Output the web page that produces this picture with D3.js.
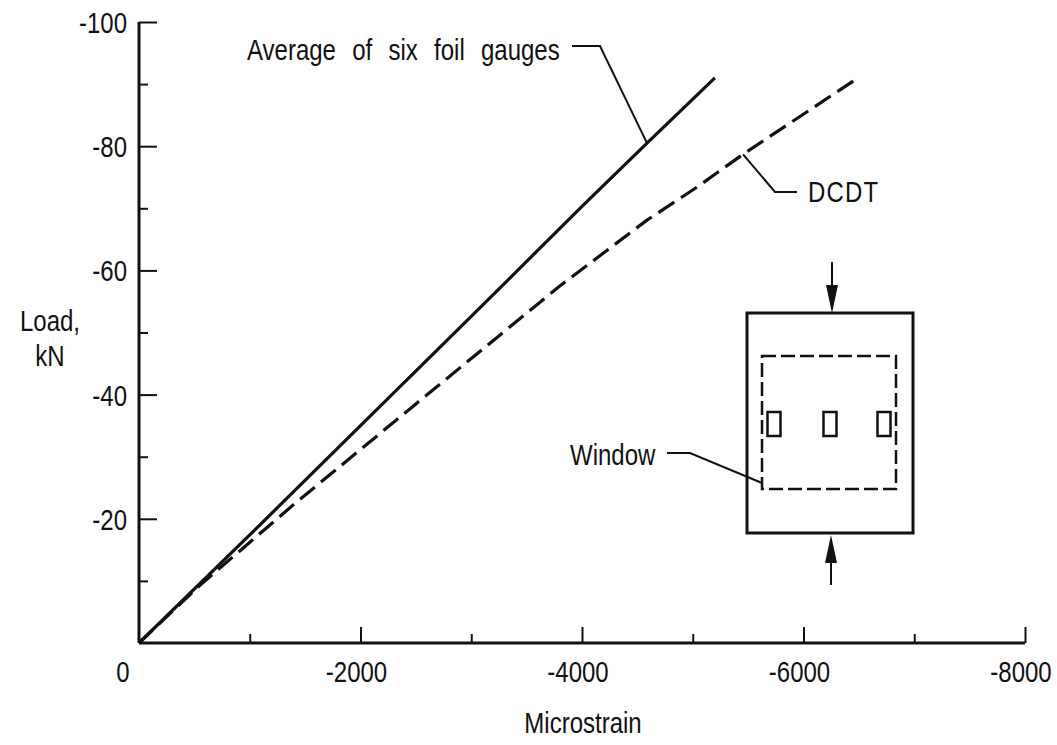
<!DOCTYPE html>
<html><head><meta charset="utf-8">
<script src="https://cdn.jsdelivr.net/npm/d3@7"></script>
<style>
body{margin:0;background:#fff;}
svg text{font-family:"Liberation Sans",Arial,sans-serif;fill:#111;}
</style></head>
<body><svg id="c" width="1057" height="745"></svg>
<script>
// ---- data ----
const xMajorTicks = [0, -2000, -4000, -6000, -8000];
const xMinorTicks = [-1000, -3000, -5000, -7000];
const yMajorTicks = [-20, -40, -60, -80, -100];
const yMinorTicks = [-10, -30, -50, -70, -90];
// Average of six foil gauges: [microstrain, load kN]
const foilStrain = [0, -1000, -2000, -3000, -4000, -4587, -5200];
const foilLoad   = [0, -17.4, -35.0, -52.6, -70.3, -80.5, -91.0];
// DCDT
const dcdtStrain = [0, -550, -1390, -2500, -3800, -4587, -5038, -5454, -6450];
const dcdtLoad   = [0, -9.3, -22.2, -38.5, -57.5, -68.1, -73.4, -78.7, -90.5];

const svg = d3.select("#c");
const x = d3.scaleLinear().domain([0, -8000]).range([139, 1025]);
const y = d3.scaleLinear().domain([0, -100]).range([643, 22]);
const FS = 30, SX = 0.8;
function txt(parent, px, py, s, anchor, extra) {
  const t = parent.append("text").attr("transform", `translate(${px},${py}) scale(${SX},1)`)
    .attr("text-anchor", anchor || "start").attr("font-size", FS).text(s);
  if (extra) extra(t);
  return t;
}

// axes
const gx = svg.append("g").attr("transform", `translate(0,${y(0)})`);
gx.call(d3.axisBottom(x).tickValues(xMajorTicks.filter(d=>d!==0)).tickSize(-16).tickFormat(""));
gx.select(".domain").remove();
const gx2 = svg.append("g").attr("transform", `translate(0,${y(0)})`);
gx2.call(d3.axisBottom(x).tickValues(xMinorTicks).tickSize(-9).tickFormat(""));
gx2.select(".domain").remove();
const gy = svg.append("g").attr("transform", `translate(${x(0)},0)`);
gy.call(d3.axisLeft(y).tickValues(yMajorTicks).tickSize(-18).tickFormat(""));
gy.select(".domain").remove();
const gy2 = svg.append("g").attr("transform", `translate(${x(0)},0)`);
gy2.call(d3.axisLeft(y).tickValues(yMinorTicks).tickSize(-9).tickFormat(""));
gy2.select(".domain").remove();
svg.selectAll(".tick line").attr("stroke","#111").attr("stroke-width",2);
// axis lines
svg.append("line").attr("x1",x(0)).attr("x2",x(-8000)).attr("y1",y(0)).attr("y2",y(0)).attr("stroke","#111").attr("stroke-width",3);
svg.append("line").attr("x1",x(0)).attr("x2",x(0)).attr("y1",y(0)).attr("y2",y(-100)).attr("stroke","#111").attr("stroke-width",3);

// tick labels
const xl = svg.append("g");
xMajorTicks.forEach(d => txt(xl, d===0 ? x(d)-16 : x(d)-4, 682, d===0 ? "0" : "-" + Math.abs(d), "middle"));
const yl = svg.append("g");
yMajorTicks.forEach(d => txt(yl, 127, y(d)+11, "-" + Math.abs(d), "end"));

// axis titles
txt(svg, 583, 733, "Microstrain", "middle");
txt(svg, 50, 331, "Load,", "middle");
txt(svg, 50, 366, "kN", "middle");

// curves
const line = d3.line().x(d=>x(d[0])).y(d=>y(d[1]));
svg.append("path").datum(foilStrain.map((s,i)=>[s,foilLoad[i]])).attr("d",line)
  .attr("fill","none").attr("stroke","#111").attr("stroke-width",3.2);
svg.append("path").datum(dcdtStrain.map((s,i)=>[s,dcdtLoad[i]])).attr("d",line)
  .attr("fill","none").attr("stroke","#111").attr("stroke-width",3.2).attr("stroke-dasharray","19,8");

// annotations
txt(svg, 247, 60, "Average of six foil gauges", "start", t => t.attr("word-spacing", 12));
svg.append("polyline").attr("points",`572,46 600,46 ${x(-4587)},${y(-80.5)}`)
  .attr("fill","none").attr("stroke","#111").attr("stroke-width",2);
txt(svg, 808, 202, "DCDT", "start", t => t.attr("letter-spacing", 1.5));
svg.append("polyline").attr("points",`${x(-5454)},${y(-78.7)} 775,192 797,192`)
  .attr("fill","none").attr("stroke","#111").attr("stroke-width",2);

// inset specimen diagram
const ins = svg.append("g");
ins.append("rect").attr("x",747).attr("y",313).attr("width",166).attr("height",220)
  .attr("fill","none").attr("stroke","#111").attr("stroke-width",3);
ins.append("rect").attr("x",762).attr("y",356).attr("width",134).attr("height",133)
  .attr("fill","none").attr("stroke","#111").attr("stroke-width",2.5).attr("stroke-dasharray","14,5");
[774, 830, 884].forEach(cx => ins.append("rect").attr("x",cx-6.5).attr("y",412).attr("width",13).attr("height",24)
  .attr("fill","none").attr("stroke","#111").attr("stroke-width",2.5));
// arrows
ins.append("line").attr("x1",832).attr("x2",832).attr("y1",262).attr("y2",300).attr("stroke","#111").attr("stroke-width",2);
ins.append("path").attr("d","M826,285 L838,285 L832,313 Z").attr("fill","#111");
ins.append("line").attr("x1",831).attr("x2",831).attr("y1",550).attr("y2",585).attr("stroke","#111").attr("stroke-width",2);
ins.append("path").attr("d","M825,563 L837,563 L831,535 Z").attr("fill","#111");
// window label
txt(ins, 570, 465, "Window", "start");
ins.append("polyline").attr("points","667,453 690,453 762,483").attr("fill","none").attr("stroke","#111").attr("stroke-width",2);
</script></body></html>
